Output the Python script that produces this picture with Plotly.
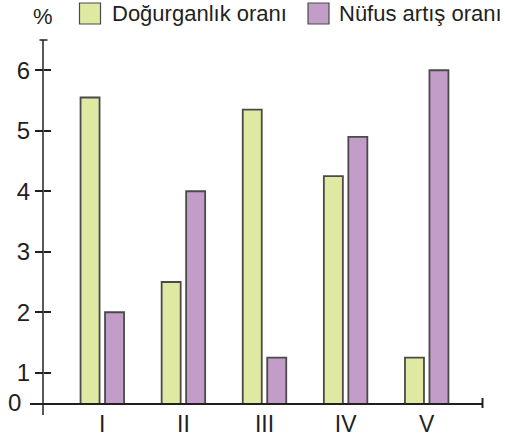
import plotly.graph_objects as go

categories = ["I", "II", "III", "IV", "V"]
dogurganlik = [5.55, 2.5, 5.35, 4.25, 1.25]
nufus = [2.0, 4.0, 1.25, 4.9, 6.0]
y_ticks = [1, 2, 3, 4, 5, 6]
series_names = ["Doğurganlık oranı", "Nüfus artış oranı"]

GREEN = "#e0e9a2"
PURPLE = "#c19dc8"
EDGE = "#4a4a4a"
INK = "#231f20"
FONT = "Liberation Sans, Arial, sans-serif"

W, H = 505, 438
L, R, T, B = 30, 22, 40, 35
PW, PH = W - L - R, H - T - B


def px(x):
    return (x - L) / PW


def py(y):
    return (H - B - y) / PH


fig = go.Figure()
fig.add_trace(go.Bar(x=categories, y=dogurganlik, name=series_names[0],
                     marker=dict(color=GREEN, line=dict(color=EDGE, width=1.8)),
                     showlegend=False))
fig.add_trace(go.Bar(x=categories, y=nufus, name=series_names[1],
                     marker=dict(color=PURPLE, line=dict(color=EDGE, width=1.8)),
                     showlegend=False))
fig.add_trace(go.Scatter(x=categories, y=nufus, yaxis="y2", mode="markers",
                         marker=dict(opacity=0), hoverinfo="skip", showlegend=False))

shapes = []
# y axis line (extends a little below the baseline) with top cap
shapes.append(dict(type="line", xref="paper", yref="paper", x0=px(43), x1=px(43),
                   y0=py(415), y1=py(40), line=dict(color=INK, width=1.5)))
shapes.append(dict(type="line", xref="paper", yref="paper", x0=px(39.5), x1=px(47.5),
                   y0=py(40), y1=py(40), line=dict(color=INK, width=1.5)))
# x axis end tick
shapes.append(dict(type="line", xref="paper", yref="paper", x0=px(482.5), x1=px(482.5),
                   y0=py(398), y1=py(408), line=dict(color=INK, width=2)))
# legend swatches
for x0, col in [(79.5, GREEN), (308, PURPLE)]:
    shapes.append(dict(type="rect", xref="paper", yref="paper", x0=px(x0), x1=px(x0 + 21),
                       y0=py(24), y1=py(3), fillcolor=col, line=dict(color=EDGE, width=1.2)))

annotations = [
    dict(text=series_names[0], x=px(110), y=py(13), xref="paper", yref="paper",
         xanchor="left", yanchor="middle", showarrow=False, font=dict(size=22, color=INK, family=FONT)),
    dict(text=series_names[1], x=px(337), y=py(13), xref="paper", yref="paper",
         xanchor="left", yanchor="middle", showarrow=False, font=dict(size=22, color=INK, family=FONT)),
    dict(text="%", x=px(43), y=py(17), xref="paper", yref="paper",
         xanchor="center", yanchor="middle", showarrow=False, font=dict(size=22, color=INK, family=FONT)),
    dict(text="0", x=px(14), y=py(402), xref="paper", yref="paper",
         xanchor="center", yanchor="middle", showarrow=False, font=dict(size=24, color=INK, family=FONT)),
]

x_lo = (L - 102.3) / 81.1
x_hi = (W - R - 102.3) / 81.1

fig.update_layout(
    template="none",
    width=W, height=H,
    margin=dict(l=L, r=R, t=T, b=B, autoexpand=False),
    paper_bgcolor="white", plot_bgcolor="white",
    barmode="group", bargap=0.396, bargroupgap=0.224,
    font=dict(family=FONT, size=22, color=INK),
    shapes=shapes, annotations=annotations,
    xaxis=dict(range=[x_lo, x_hi], showline=True, linecolor=INK, linewidth=1.5,
               ticks="", showgrid=False, zeroline=False, automargin=False,
               tickfont=dict(size=23, color=INK, family=FONT)),
    yaxis=dict(range=[0.5, 6.5], anchor="free", position=px(43), tickvals=y_ticks,
               ticks="outside", ticklen=8, tickwidth=1.5, tickcolor=INK,
               showline=False, showgrid=False, zeroline=False, automargin=False,
               tickfont=dict(size=24, color=INK, family=FONT)),
    yaxis2=dict(range=[0.5, 6.5], anchor="free", position=px(43), overlaying="y",
                tickvals=y_ticks, ticks="inside", ticklen=7, tickwidth=1.5, tickcolor=INK,
                showticklabels=False, showline=False, showgrid=False, zeroline=False,
                automargin=False),
)

fig.write_html("out.html", config={"displayModeBar": False},
               post_script="document.body.style.margin='0';document.body.style.overflow='hidden';")
